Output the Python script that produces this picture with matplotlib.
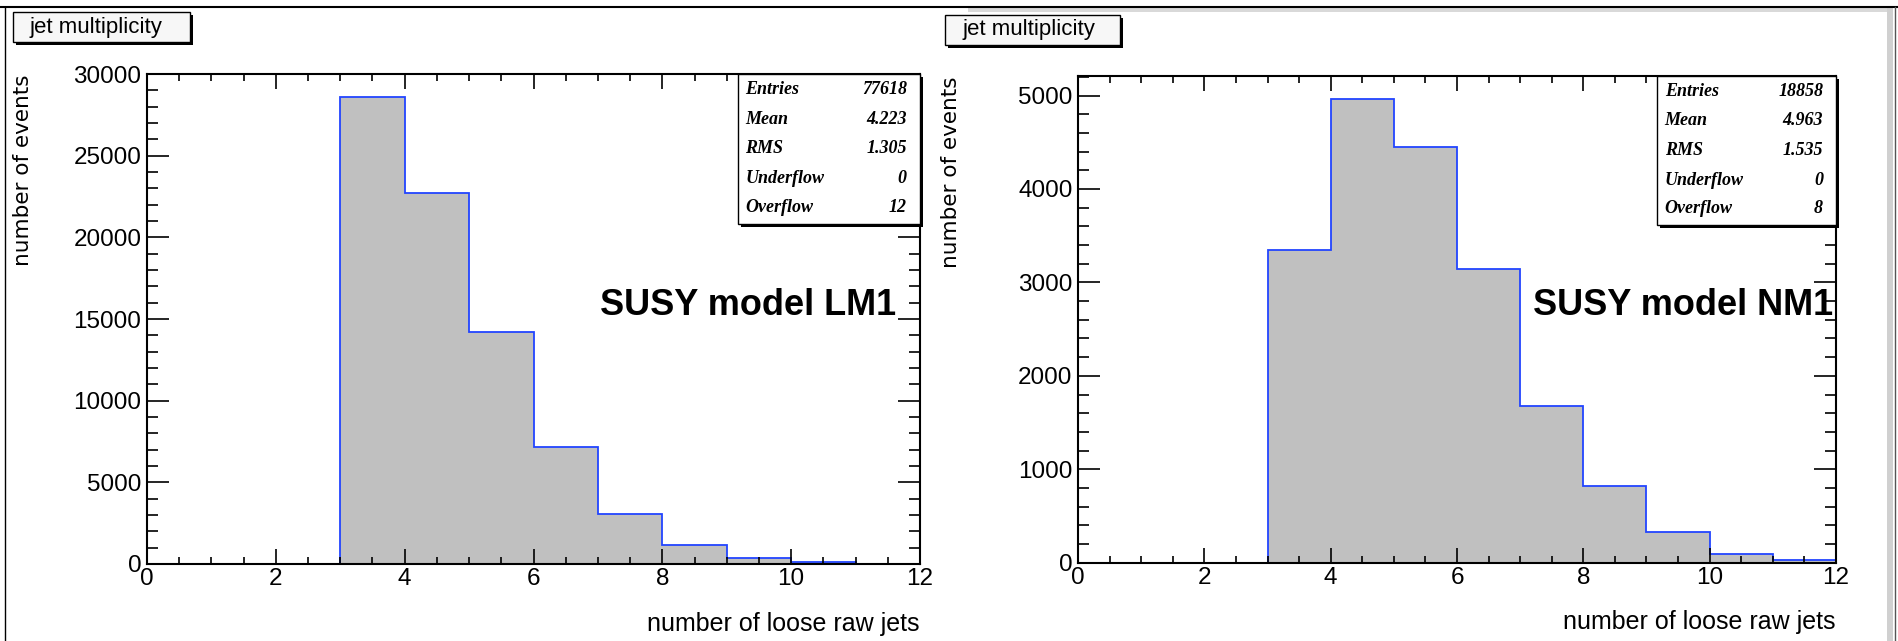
import numpy as np
import matplotlib.pyplot as plt
from matplotlib.patches import Rectangle
from matplotlib.lines import Line2D
from matplotlib.ticker import MultipleLocator
from matplotlib.transforms import offset_copy

# data
edges = np.arange(0, 13, 1)
lm1_counts = [0, 0, 0, 28580, 22740, 14190, 7180, 3080, 1140, 390, 100, 30]
nm1_counts = [0, 0, 0, 3348, 4961, 4447, 3141, 1681, 818, 332, 96, 29]

title = "jet multiplicity"
xlabel = "number of loose raw jets"
ylabel = "number of events"
stat_names = ["Entries", "Mean", "RMS", "Underflow", "Overflow"]
lm1_stats = ["77618", "4.223", "1.305", "0", "12"]
nm1_stats = ["18858", "4.963", "1.535", "0", "8"]
models = ["SUSY model LM1", "SUSY model NM1"]

W, H = 1899, 641
fig = plt.figure(figsize=(W / 100, H / 100), dpi=100)
fig.patch.set_facecolor("white")

sans = "Liberation Sans"
serif = "Liberation Serif"


def fx(x):
    return x / W


def fy(y):
    return 1 - y / H


def pad_frame():
    # outer canvas borders
    fig.add_artist(Line2D([0, 1], [fy(7), fy(7)], color="black", lw=1.5,
                          transform=fig.transFigure))
    fig.add_artist(Line2D([fx(5), fx(5)], [fy(7), 0], color="black", lw=1.0,
                          transform=fig.transFigure))
    fig.add_artist(Rectangle((fx(968), fy(12)), fx(1887 - 968), 4 / H, color="#d9d9d9",
                             transform=fig.transFigure, lw=0))
    fig.add_artist(Rectangle((fx(1887), 0), fx(6), fy(8), color="#d0d0d0",
                             transform=fig.transFigure, lw=0))
    fig.add_artist(Line2D([fx(1895), fx(1895)], [fy(7), 0], color="#555555", lw=1.0,
                          transform=fig.transFigure))


def title_box(x0, y0, x1, y1, tx):
    fig.add_artist(Rectangle((fx(x0 + 3), fy(y1 + 3)), fx(x1 - x0), (y1 - y0) / H,
                             facecolor="black", edgecolor="black", lw=0,
                             transform=fig.transFigure))
    fig.add_artist(Rectangle((fx(x0), fy(y1)), fx(x1 - x0), (y1 - y0) / H,
                             facecolor="#f7f7f7", edgecolor="black", lw=1.0,
                             transform=fig.transFigure))
    fig.text(fx(tx), fy((y0 + y1) / 2), title, fontsize=16, family=sans,
             ha="left", va="center")


def draw_pad(ax, counts, stats, model, ymaj, ymin, model_x):
    ax.stairs(counts, edges, fill=True, color="#c0c0c0", lw=0)
    ax.stairs(counts, edges, color="#2244ff", lw=1.3)
    ax.set_xlim(0, 12)
    ax.set_ylim(0, max(counts) * 1.05)
    ax.xaxis.set_major_locator(MultipleLocator(2))
    ax.xaxis.set_minor_locator(MultipleLocator(0.5))
    ax.yaxis.set_major_locator(MultipleLocator(ymaj))
    ax.yaxis.set_minor_locator(MultipleLocator(ymin))
    ax.tick_params(which="both", direction="in", top=True, right=True, width=1.2,
                   labelsize=17.5)
    ax.tick_params(axis="x", which="major", length=10.8, pad=3)
    ax.tick_params(axis="x", which="minor", length=5)
    ax.tick_params(axis="y", which="major", length=16, pad=4)
    ax.tick_params(axis="y", which="minor", length=8)
    for lab in ax.get_xticklabels() + ax.get_yticklabels():
        lab.set_family(sans)
    for s in ax.spines.values():
        s.set_linewidth(1.5)

    ax.set_xlabel(xlabel, loc="right", fontsize=18, family=sans)
    ax.xaxis.set_label_coords(1.0, -0.098)
    ax.set_ylabel(ylabel, loc="top", fontsize=15.5, family="DejaVu Sans")

    # stats box, ROOT style with drop shadow
    sh = offset_copy(ax.transAxes, fig=fig, x=3, y=-3, units="dots")
    ax.add_patch(Rectangle((0.764, 0.694), 0.236, 0.306, transform=sh,
                           facecolor="black", lw=0, clip_on=False, zorder=5))
    ax.add_patch(Rectangle((0.764, 0.694), 0.236, 0.306, transform=ax.transAxes,
                           facecolor="white", edgecolor="black", lw=1.0,
                           clip_on=False, zorder=6))
    rows = [0.969, 0.908, 0.847, 0.786, 0.727]
    for name, val, yy in zip(stat_names, stats, rows):
        ax.text(0.774, yy, name, transform=ax.transAxes, fontsize=13, family=serif,
                weight="bold", style="italic", va="center", ha="left", zorder=7)
        ax.text(0.983, yy, val, transform=ax.transAxes, fontsize=13, family=serif,
                weight="bold", style="italic", va="center", ha="right", zorder=7)

    ax.text(model_x, 0.508, model, transform=ax.transAxes, fontsize=26, family=sans,
            weight="bold", va="baseline", ha="left", zorder=7, clip_on=False)


pad_frame()
title_box(13, 12, 190, 42, 30)
title_box(945, 15, 1120, 45, 962)

ax1 = fig.add_axes([fx(147), 1 - 564 / H, fx(773), 490 / H])
draw_pad(ax1, lm1_counts, lm1_stats, models[0], 5000, 1000, 0.586)
ax1.yaxis.set_label_coords(-0.1475, 1.0)

ax2 = fig.add_axes([fx(1078), 1 - 562.7 / H, fx(758), 486.7 / H])
draw_pad(ax2, nm1_counts, nm1_stats, models[1], 1000, 200, 0.600)
ax2.yaxis.set_label_coords(-0.155, 1.0)

fig.savefig("out.png", dpi=100)
